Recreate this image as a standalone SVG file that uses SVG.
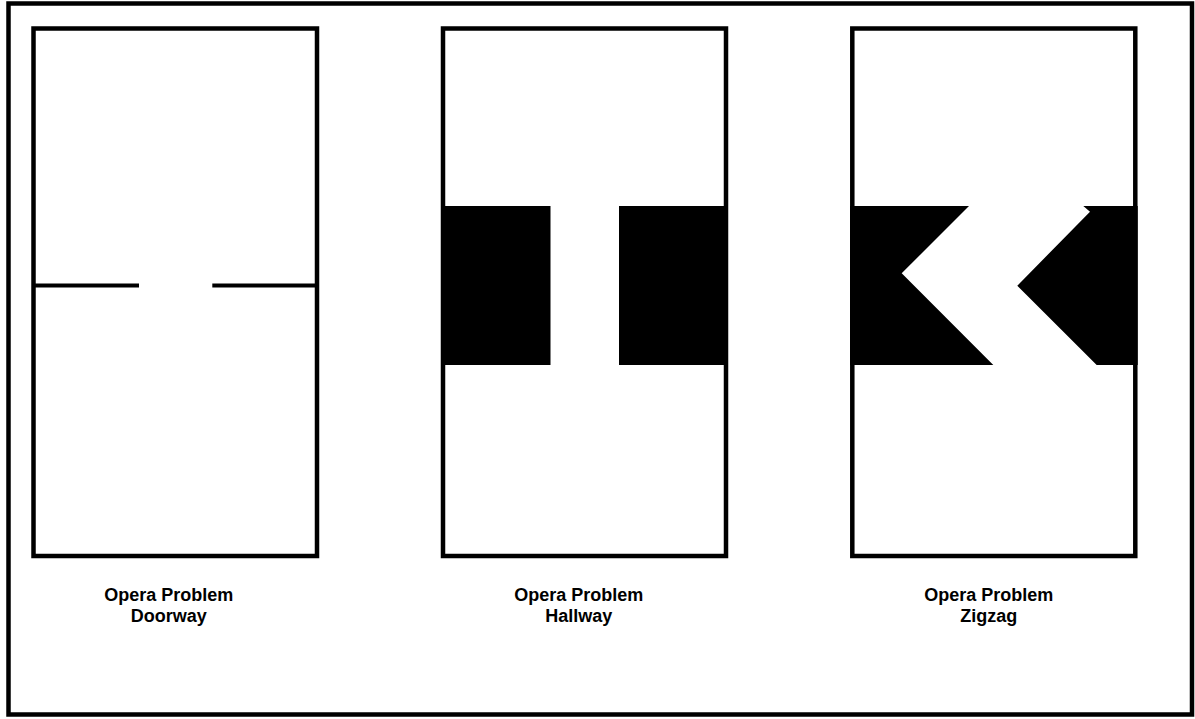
<svg xmlns="http://www.w3.org/2000/svg" width="1195" height="719" viewBox="0 0 1195 719">
<style>
.frame{fill:none;stroke:#000;stroke-width:4.5}
.room{fill:none;stroke:#000;stroke-width:4.5}
.wall{fill:#000;stroke:none}
.door{stroke:#000;stroke-width:4;fill:none}
.lbl{font-family:"Liberation Sans",Arial,sans-serif;font-weight:bold;font-size:18px;fill:#000;text-anchor:middle}
</style>
<rect x="0" y="0" width="1195" height="719" fill="#fff"/>
<rect class="frame" x="8.5" y="3.5" width="1183.5" height="711"/>
<g id="doorway">
  <line class="door" x1="33.5" y1="285.5" x2="139" y2="285.5"/>
  <line class="door" x1="212.3" y1="285.5" x2="317" y2="285.5"/>
  <rect class="room" x="33.5" y="28.5" width="283.5" height="527.5"/>
  <text class="lbl" x="168.8" y="601.3">Opera Problem</text>
  <text class="lbl" x="168.8" y="622.3">Doorway</text>
</g>
<g id="hallway">
  <rect class="wall" x="441" y="206" width="109.5" height="159"/>
  <rect class="wall" x="619" y="206" width="109" height="159"/>
  <rect class="room" x="443" y="28.5" width="283" height="527.5"/>
  <text class="lbl" x="578.8" y="601.3">Opera Problem</text>
  <text class="lbl" x="578.8" y="622.3">Hallway</text>
</g>
<g id="zigzag">
  <polygon class="wall" points="850,206 969,206 901.7,273.3 993.3,365 850,365"/>
  <polygon class="wall" points="1083.3,206 1137.7,206 1137.7,365 1096.7,365 1017.3,285.7 1090,211.7"/>
  <rect class="room" x="852.3" y="28.5" width="283" height="527.5"/>
  <text class="lbl" x="988.8" y="601.3">Opera Problem</text>
  <text class="lbl" x="988.8" y="622.3">Zigzag</text>
</g>
<g id="connectors"/>
</svg>
